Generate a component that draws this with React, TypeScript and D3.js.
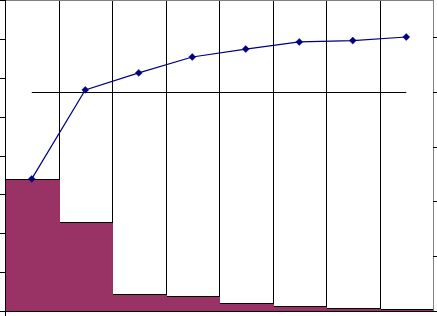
import React from "react";
import * as d3 from "d3";

const categories = ["A", "B", "C", "D", "E", "F", "G", "H"];
const counts = [34.0, 22.9, 4.4, 3.9, 2.1, 1.3, 0.8, 0.6];
const cumulative = [0.482, 0.807, 0.869, 0.927, 0.956, 0.982, 0.987, 1.0];
const leftTicks = [0, 10, 20, 30, 40, 50, 60, 70, 80];
const rightTicks = [0, 0.2, 0.4, 0.6, 0.8, 1.0];
const threshold = 0.8;

const W = 437;
const H = 316;
const L = 5;
const R = 433;
const T = 0;
const B = 311;

export default function App() {
  const x = d3.scaleBand<string>().domain(categories).range([L, R]).padding(0);
  const yL = d3.scaleLinear().domain([0, 80]).range([B, T]);
  const yR = d3.scaleLinear().domain([0, 311 / 274]).range([B, T]);
  const cx = (i: number) => (x(categories[i]) as number) + x.bandwidth() / 2;
  const line = d3
    .line<number>()
    .x((_, i) => cx(i))
    .y((d) => yR(d));
  const diamond = d3.symbol().type(d3.symbolSquare).size(24)() as string;
  const purple = "#993366";
  const navy = "#000080";
  const edge = (v: number) => Math.round(v) + 0.5;

  return (
    <svg
      width={W}
      height={H}
      style={{ position: "absolute", left: 0, top: 0, background: "#fff" }}
    >
      <defs>
        <clipPath id="plot">
          <rect x={L} y={T} width={R - L} height={B - T} />
        </clipPath>
      </defs>
      <rect x={0} y={0} width={W} height={H} fill="#fff" />
      <g clipPath="url(#plot)">
        {categories.map((c, i) => {
          const x0 = edge(x(c)!);
          const x1 = edge(x(c)! + x.bandwidth());
          const yt = edge(yL(counts[i]));
          return (
            <rect
              key={"w" + c}
              x={x0}
              y={-5}
              width={x1 - x0}
              height={yt + 5}
              fill="#fff"
              stroke="#000"
              strokeWidth={1}
            />
          );
        })}
        {categories.map((c, i) => {
          const x0 = Math.round(x(c)!);
          const x1 = Math.round(x(c)! + x.bandwidth()) + 1;
          const yt = Math.round(yL(counts[i])) + 1;
          return (
            <rect
              key={"p" + c}
              x={x0}
              y={yt}
              width={x1 - x0}
              height={B - yt}
              fill={purple}
              shapeRendering="crispEdges"
            />
          );
        })}
      </g>
      {/* plot border */}
      <line x1={L} x2={R} y1={0.5} y2={0.5} stroke="#808080" strokeWidth={1} />
      <line x1={R + 0.5} x2={R + 0.5} y1={0} y2={B} stroke="#808080" strokeWidth={1} />
      {/* threshold line */}
      <line
        x1={cx(0)}
        x2={cx(categories.length - 1)}
        y1={edge(yR(threshold))}
        y2={edge(yR(threshold))}
        stroke="#000"
        strokeWidth={1}
      />
      {/* left axis */}
      <line x1={L + 0.5} x2={L + 0.5} y1={0} y2={H} stroke="#000" strokeWidth={1} />
      {leftTicks.map((t) => (
        <line
          key={"lt" + t}
          x1={0}
          x2={L}
          y1={edge(yL(t))}
          y2={edge(yL(t))}
          stroke="#000"
        />
      ))}
      {/* bottom axis */}
      <line x1={L} x2={R} y1={B + 0.5} y2={B + 0.5} stroke="#000" strokeWidth={1} />
      {/* right ticks */}
      {rightTicks.map((t) => (
        <line
          key={"rt" + t}
          x1={R}
          x2={W}
          y1={edge(yR(t))}
          y2={edge(yR(t))}
          stroke="#000"
        />
      ))}
      {/* cumulative line */}
      <path d={line(cumulative) as string} fill="none" stroke={navy} strokeWidth={1.2} />
      {cumulative.map((v, i) => (
        <path
          key={"m" + i}
          d={diamond}
          transform={`translate(${cx(i)},${yR(v)}) rotate(45)`}
          fill={navy}
          stroke={navy}
          strokeWidth={0.5}
        />
      ))}
    </svg>
  );
}
